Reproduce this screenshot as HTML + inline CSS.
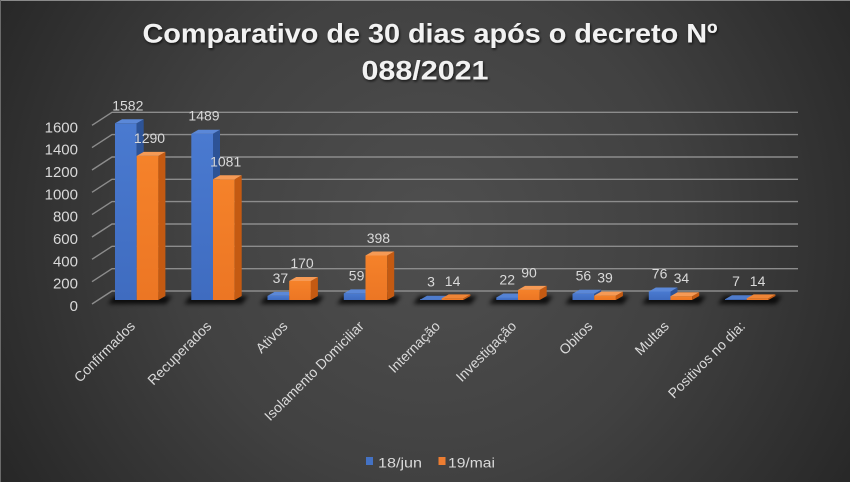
<!DOCTYPE html>
<html><head><meta charset="utf-8">
<style>
html,body{margin:0;padding:0;background:#2a2a2a;}
svg{display:block;}
text{font-family:"Liberation Sans",sans-serif;}
</style></head>
<body>
<svg width="850" height="482" viewBox="0 0 850 482" xmlns="http://www.w3.org/2000/svg">
<defs>
<radialGradient id="bg" cx="430" cy="230" r="560" gradientUnits="userSpaceOnUse">
<stop offset="0" stop-color="#4f4f4f"/>
<stop offset="0.45" stop-color="#414141"/>
<stop offset="1" stop-color="#202020"/>
</radialGradient>
<linearGradient id="bf" x1="0" y1="0" x2="0" y2="1">
<stop offset="0" stop-color="#4a7ad0"/><stop offset="1" stop-color="#3f6cc0"/>
</linearGradient>
<linearGradient id="of" x1="0" y1="0" x2="0" y2="1">
<stop offset="0" stop-color="#f5822a"/><stop offset="1" stop-color="#ec7624"/>
</linearGradient>
<filter id="ts" x="-5%" y="-30%" width="110%" height="160%">
<feDropShadow dx="1" dy="1.5" stdDeviation="1.2" flood-color="#000" flood-opacity="0.7"/>
</filter>
<filter id="sh" x="-20%" y="-100%" width="140%" height="300%">
<feGaussianBlur stdDeviation="2"/>
</filter>
</defs>
<rect width="850" height="482" fill="url(#bg)"/>
<line x1="0" y1="0.5" x2="850" y2="0.5" stroke="#8a8a8a" stroke-width="1"/>
<line x1="0.5" y1="0" x2="0.5" y2="482" stroke="#6a6a6a" stroke-width="1"/>

<!-- title -->
<g filter="url(#ts)" fill="#f2f2f2" font-weight="bold" font-size="27">
<text x="430" y="42.7" text-anchor="middle" textLength="575" lengthAdjust="spacingAndGlyphs">Comparativo de 30 dias após o decreto Nº</text>
<text x="425" y="79.3" text-anchor="middle" textLength="127" lengthAdjust="spacingAndGlyphs">088/2021</text>
</g>

<!-- gridlines -->
<g stroke="#8c8c8c" stroke-width="1.4" fill="none">
<path d="M92 304 L112 291 H798"/>
<path d="M92 281.7 L112 268.7 H798"/>
<path d="M92 259.3 L112 246.3 H798"/>
<path d="M92 237 L112 224 H798"/>
<path d="M92 214.6 L112 201.6 H798"/>
<path d="M92 192.3 L112 179.3 H798"/>
<path d="M92 170 L112 157 H798"/>
<path d="M92 147.6 L112 134.6 H798"/>
<path d="M92 125.3 L112 112.3 H798"/>
</g>

<!-- y labels -->
<g fill="#d9d9d9" font-size="15" text-anchor="end">
<text x="78" y="311">0</text>
<text x="78" y="288.7">200</text>
<text x="78" y="266.3">400</text>
<text x="78" y="244">600</text>
<text x="78" y="221.6">800</text>
<text x="78" y="199.3">1000</text>
<text x="78" y="177">1200</text>
<text x="78" y="154.6">1400</text>
<text x="78" y="132.3">1600</text>
</g>

<!-- floor shadows -->
<g fill="#000" opacity="0.8" filter="url(#sh)">
<polygon points="108,304 166,304 172,296 114,296"/>
<polygon points="184,304 242,304 248,296 190,296"/>
<polygon points="260,304 318,304 324,296 266,296"/>
<polygon points="337,304 395,304 401,296 343,296"/>
<polygon points="413,304 471,304 477,296 419,296"/>
<polygon points="489,304 547,304 553,296 495,296"/>
<polygon points="565,304 623,304 629,296 571,296"/>
<polygon points="642,304 700,304 706,296 648,296"/>
<polygon points="718,304 776,304 782,296 724,296"/>
</g>

<!-- bars -->
<g>
<rect x="115" y="123.3" width="21.7" height="176.7" fill="url(#bf)"/>
<polygon points="136.7,123.3 143.7,119.3 143.7,296 136.7,300" fill="#2d5396"/>
<polygon points="115,123.3 122,119.3 143.7,119.3 136.7,123.3" fill="#5b88d8"/>
<rect x="136.7" y="155.9" width="21.7" height="144.1" fill="url(#of)"/>
<polygon points="158.4,155.9 165.4,151.9 165.4,296 158.4,300" fill="#c45a12"/>
<polygon points="136.7,155.9 143.7,151.9 165.4,151.9 158.4,155.9" fill="#f69a55"/>

<rect x="191.3" y="133.7" width="21.7" height="166.3" fill="url(#bf)"/>
<polygon points="213,133.7 220,129.7 220,296 213,300" fill="#2d5396"/>
<polygon points="191.3,133.7 198.3,129.7 220,129.7 213,133.7" fill="#5b88d8"/>
<rect x="213" y="179.3" width="21.7" height="120.7" fill="url(#of)"/>
<polygon points="234.7,179.3 241.7,175.3 241.7,296 234.7,300" fill="#c45a12"/>
<polygon points="213,179.3 220,175.3 241.7,175.3 234.7,179.3" fill="#f69a55"/>

<rect x="267.5" y="295.9" width="21.7" height="4.1" fill="url(#bf)"/>
<polygon points="289.2,295.9 296.2,291.9 296.2,296 289.2,300" fill="#2d5396"/>
<polygon points="267.5,295.9 274.5,291.9 296.2,291.9 289.2,295.9" fill="#5b88d8"/>
<rect x="289.2" y="281" width="21.7" height="19" fill="url(#of)"/>
<polygon points="310.9,281 317.9,277 317.9,296 310.9,300" fill="#c45a12"/>
<polygon points="289.2,281 296.2,277 317.9,277 310.9,281" fill="#f69a55"/>

<rect x="343.8" y="293.4" width="21.7" height="6.6" fill="url(#bf)"/>
<polygon points="365.5,293.4 372.5,289.4 372.5,296 365.5,300" fill="#2d5396"/>
<polygon points="343.8,293.4 350.8,289.4 372.5,289.4 365.5,293.4" fill="#5b88d8"/>
<rect x="365.5" y="255.5" width="21.7" height="44.5" fill="url(#of)"/>
<polygon points="387.2,255.5 394.2,251.5 394.2,296 387.2,300" fill="#c45a12"/>
<polygon points="365.5,255.5 372.5,251.5 394.2,251.5 387.2,255.5" fill="#f69a55"/>

<rect x="420" y="299.2" width="21.7" height="0.8" fill="url(#bf)"/>
<polygon points="441.7,299.5 448.7,295.5 448.7,296 441.7,300" fill="#2d5396"/>
<polygon points="420,299.7 427,295.7 448.7,295.7 441.7,299.7" fill="#4f7ccc"/>
<rect x="441.7" y="298.4" width="21.7" height="1.6" fill="url(#of)"/>
<polygon points="463.4,298.4 470.4,294.4 470.4,296 463.4,300" fill="#c45a12"/>
<polygon points="441.7,298.4 448.7,294.4 470.4,294.4 463.4,298.4" fill="#ef8536"/>

<rect x="496.3" y="297.5" width="21.7" height="2.5" fill="url(#bf)"/>
<polygon points="518,297.5 525,293.5 525,296 518,300" fill="#2d5396"/>
<polygon points="496.3,297.5 503.3,293.5 525,293.5 518,297.5" fill="#5583d4"/>
<rect x="518" y="289.9" width="21.7" height="10.1" fill="url(#of)"/>
<polygon points="539.7,289.9 546.7,285.9 546.7,296 539.7,300" fill="#c45a12"/>
<polygon points="518,289.9 525,285.9 546.7,285.9 539.7,289.9" fill="#f69a55"/>

<rect x="572.5" y="293.7" width="21.7" height="6.3" fill="url(#bf)"/>
<polygon points="594.2,293.7 601.2,289.7 601.2,296 594.2,300" fill="#2d5396"/>
<polygon points="572.5,293.7 579.5,289.7 601.2,289.7 594.2,293.7" fill="#5b88d8"/>
<rect x="594.2" y="295.6" width="21.7" height="4.4" fill="url(#of)"/>
<polygon points="615.9,295.6 622.9,291.6 622.9,296 615.9,300" fill="#c45a12"/>
<polygon points="594.2,295.6 601.2,291.6 622.9,291.6 615.9,295.6" fill="#f69a55"/>

<rect x="648.8" y="291.5" width="21.7" height="8.5" fill="url(#bf)"/>
<polygon points="670.5,291.5 677.5,287.5 677.5,296 670.5,300" fill="#2d5396"/>
<polygon points="648.8,291.5 655.8,287.5 677.5,287.5 670.5,291.5" fill="#5b88d8"/>
<rect x="670.5" y="296.2" width="21.7" height="3.8" fill="url(#of)"/>
<polygon points="692.2,296.2 699.2,292.2 699.2,296 692.2,300" fill="#c45a12"/>
<polygon points="670.5,296.2 677.5,292.2 699.2,292.2 692.2,296.2" fill="#f69a55"/>

<rect x="725" y="299.2" width="21.7" height="0.8" fill="url(#bf)"/>
<polygon points="746.7,299.2 753.7,295.2 753.7,296 746.7,300" fill="#2d5396"/>
<polygon points="725,299.2 732,295.2 753.7,295.2 746.7,299.2" fill="#4f7ccc"/>
<rect x="746.7" y="298.4" width="21.7" height="1.6" fill="url(#of)"/>
<polygon points="768.4,298.4 775.4,294.4 775.4,296 768.4,300" fill="#c45a12"/>
<polygon points="746.7,298.4 753.7,294.4 775.4,294.4 768.4,298.4" fill="#ef8536"/>
</g>

<!-- data labels -->
<g fill="#d9d9d9" font-size="14" text-anchor="middle">
<text x="127.8" y="110.3">1582</text>
<text x="149.5" y="142.9">1290</text>
<text x="204" y="120.7">1489</text>
<text x="225.7" y="166.3">1081</text>
<text x="280.4" y="282.9">37</text>
<text x="302" y="268">170</text>
<text x="356.6" y="280.6">59</text>
<text x="378.4" y="243">398</text>
<text x="431" y="286.7">3</text>
<text x="452.6" y="285.8">14</text>
<text x="507.2" y="284.5">22</text>
<text x="529" y="277.5">90</text>
<text x="583.4" y="280.7">56</text>
<text x="605" y="282.6">39</text>
<text x="659.6" y="278.5">76</text>
<text x="681.4" y="283.2">34</text>
<text x="736" y="286.2">7</text>
<text x="757.6" y="285.8">14</text>
</g>

<!-- x labels -->
<g fill="#d9d9d9" font-size="14" text-anchor="end">
<text transform="translate(136,327) rotate(-45)">Confirmados</text>
<text transform="translate(212.3,327) rotate(-45)">Recuperados</text>
<text transform="translate(288.5,327) rotate(-45)">Ativos</text>
<text transform="translate(364.8,327) rotate(-45)">Isolamento Domiciliar</text>
<text transform="translate(441,327) rotate(-45)">Internação</text>
<text transform="translate(517.3,327) rotate(-45)">Investigação</text>
<text transform="translate(593.5,327) rotate(-45)">Obitos</text>
<text transform="translate(669.8,327) rotate(-45)">Multas</text>
<text transform="translate(746,327) rotate(-45)">Positivos no dia:</text>
</g>

<!-- legend -->
<rect x="366" y="457" width="7" height="8" fill="#4472c4"/>
<text x="378" y="467.5" fill="#d9d9d9" font-size="14" textLength="44" lengthAdjust="spacingAndGlyphs">18/jun</text>
<rect x="438.5" y="457" width="7" height="8" fill="#ed7d31"/>
<text x="448" y="467.5" fill="#d9d9d9" font-size="14" textLength="47" lengthAdjust="spacingAndGlyphs">19/mai</text>
</svg>
</body></html>
